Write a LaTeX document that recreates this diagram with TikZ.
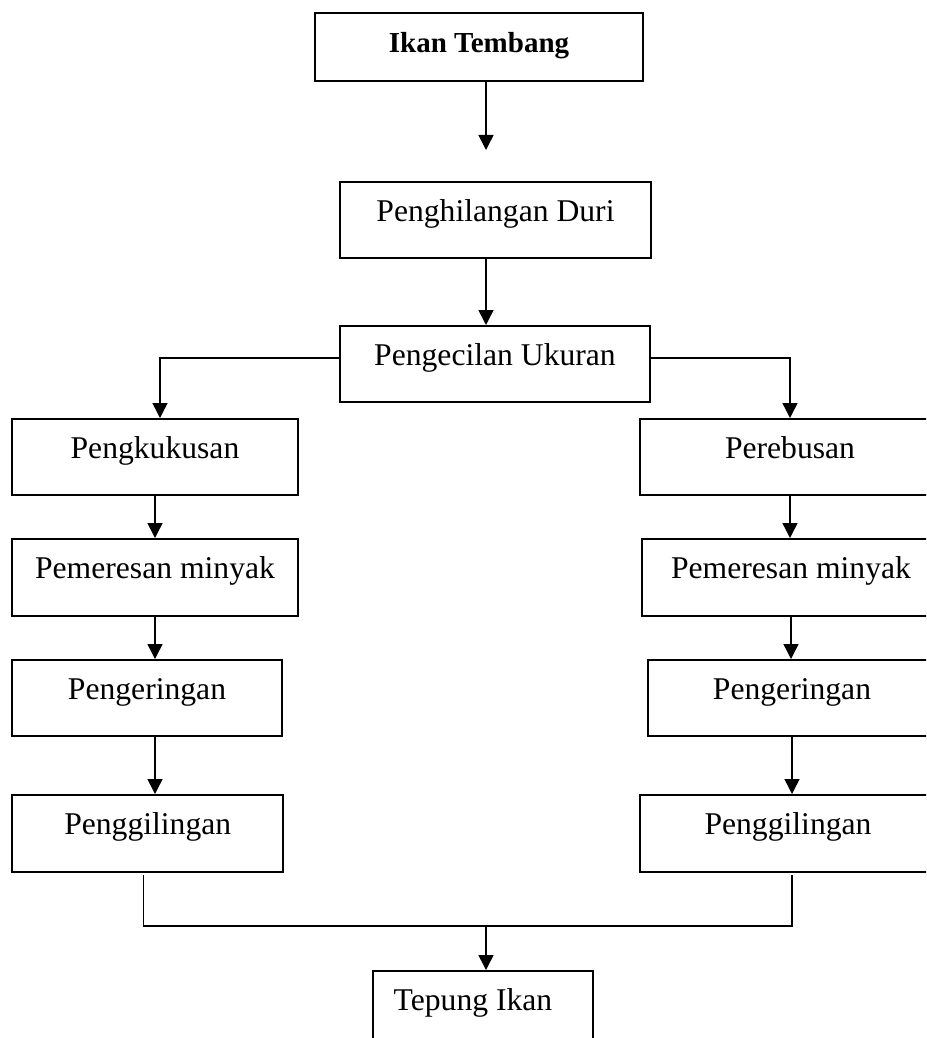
\documentclass[tikz,border=0pt]{standalone}
\usepackage{fontspec}
\setmainfont{Liberation Serif}
\usetikzlibrary{arrows.meta,calc}

\begin{document}
\begin{tikzpicture}[
		font=\fontsize{18}{22}\selectfont,
		stage/.style={draw, line width=1.1pt, anchor=north, inner xsep=0pt, inner ysep=0pt,
			text height=0.8cm, text depth=0.72cm},
		flow/.style={line width=0.85pt, -{Triangle[length=0.3cm,width=0.3cm]}},
		joint/.style={line width=0.85pt}
	]
			%%%%% START %%%%%
			
			\clip (0, 0) rectangle (18.52, -20.76);
			
			\node[stage, minimum width=6.56cm, text depth=0.56cm, font=\fontsize{16.5}{20}\selectfont\bfseries] (ikan) at (9.58, -0.24) {Ikan Tembang};
			\coordinate (tip) at (9.72, -3.0);
			\draw[flow] (ikan.south -| tip) -- (tip);
			
			\node[stage, minimum width=6.22cm] (duri) at (9.91, -3.62) {Penghilangan Duri};
			\node[stage, minimum width=6.2cm] (kecil) at (9.9, -6.5) {Pengecilan Ukuran};
			\draw[flow] (duri.south -| tip) -- (kecil.north -| tip);
			
			% cabang kiri
			\node[stage, minimum width=5.72cm] (kukus) at (3.1, -8.36) {Pengkukusan};
			\node[stage, minimum width=5.72cm, text depth=0.74cm] (peras1) at (3.1, -10.76) {Pemeresan minyak};
			\node[stage, minimum width=5.4cm] (kering1) at (2.94, -13.18) {Pengeringan};
			\node[stage, minimum width=5.42cm, text depth=0.74cm] (giling1) at (2.955, -15.88) {Penggilingan};
			
			\draw[flow] ([yshift=0.12cm]kecil.west) -| ([xshift=0.1cm]kukus.north);
			\draw[flow] (kukus.south) -- (peras1.north);
			\draw[flow] (peras1.south) -- (peras1.south |- kering1.north);
			\draw[flow] (kering1.south -| peras1) -- (giling1.north -| peras1);
			
			% cabang kanan
			\node[stage, minimum width=6.0cm] (rebus) at (15.8, -8.36) {Perebusan};
			\node[stage, minimum width=5.96cm, text depth=0.74cm] (peras2) at (15.82, -10.76) {Pemeresan minyak};
			\node[stage, minimum width=5.76cm] (kering2) at (15.84, -13.18) {Pengeringan};
			\node[stage, minimum width=5.92cm, text depth=0.74cm] (giling2) at (15.76, -15.88) {Penggilingan};
			
			\draw[flow] ([yshift=0.12cm]kecil.east) -| (rebus.north);
			\draw[flow] (rebus.south) -- (rebus.south |- peras2.north);
			\draw[flow] (peras2.south) -- (peras2.south |- kering2.north);
			\draw[flow] (kering2.south) -- (kering2.south |- giling2.north);
			
			% gabungan
			\coordinate (m) at (9.72, -18.52);
			\node[stage, inner xsep=0.42cm, text depth=1.2cm] (tepung) at (9.66, -19.4) {Tepung Ikan\kern0.4cm};
			\draw[joint] ([xshift=-0.09cm, yshift=-0.04cm]giling1.south) |- (m) -| ([xshift=0.08cm, yshift=-0.04cm]giling2.south);
			\draw[flow] (m) -- (tepung.north -| m);
			
			%%%%% END %%%%%
		\end{tikzpicture}
\end{document}
